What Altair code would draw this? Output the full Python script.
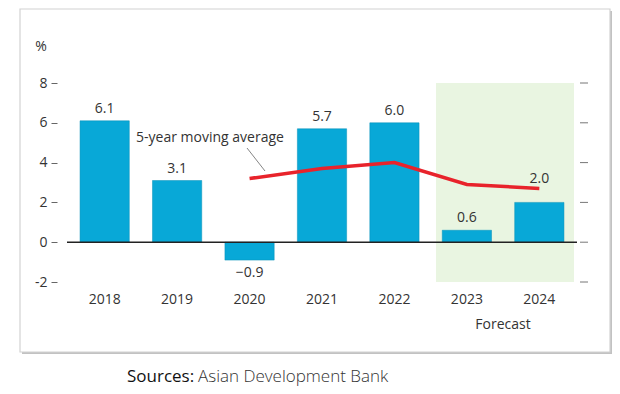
import altair as alt
import pandas as pd

years = ["2018", "2019", "2020", "2021", "2022", "2023", "2024"]
growth = [6.1, 3.1, -0.9, 5.7, 6.0, 0.6, 2.0]
avg_years = ["2020", "2021", "2022", "2023", "2024"]
avg_vals = [3.2, 3.7, 4.0, 2.9, 2.7]
y_ticks = [-2, 0, 2, 4, 6, 8]

FONT = "Open Sans"
TXT = "#333333"
BAR = "#08a8d7"
RED = "#e8232b"

bars_df = pd.DataFrame({"year": years, "value": growth})
bars_df["label"] = [f"{v:.1f}".replace("-", "\u2212") for v in growth]
avg_df = pd.DataFrame({"year": avg_years, "avg": avg_vals})
ticks_df = pd.DataFrame({"t": y_ticks})
one = pd.DataFrame({"k": [0]})

yscale = alt.Scale(domain=[-2, 8], nice=False, zero=False)
xscale = alt.Scale(domain=years, paddingInner=0.32, paddingOuter=0.18)
xaxis = alt.Axis(title=None, domain=False, ticks=False, labelPadding=10, zindex=2,
                 labelFontSize=14, labelColor=TXT, labelFont=FONT, labelAngle=0)
yaxis = alt.Axis(title=None, values=y_ticks, tickCount=6, domain=False, grid=False, zindex=2,
                 offset=10, tickSize=6, tickColor="#666666", labelPadding=4,
                 labelFontSize=14, labelColor=TXT, labelFont=FONT,
                 labelOverlap=False, labelBound=False,
                 labelExpr="datum.value < 0 ? '-' + abs(datum.value) : '' + datum.value")

base = alt.Chart(bars_df)

# frame (decoration)
shadow = alt.Chart(one).mark_rect(fill="#9a9a9a", opacity=0.6).encode(
    x=alt.value(-45), x2=alt.value(545), y=alt.value(-72), y2=alt.value(271))
frame = alt.Chart(one).mark_rect(fill="white", stroke="#d2d2d2", strokeWidth=1.2).encode(
    x=alt.value(-47), x2=alt.value(543), y=alt.value(-74), y2=alt.value(269))

# forecast shading (decoration, spans -2..8)
green = alt.Chart(one).mark_rect(color="#e9f5e1").encode(
    x=alt.value(369), x2=alt.value(507), y=alt.value(0), y2=alt.value(199))

bars = base.mark_bar(color=BAR, stroke="#0790b8", strokeWidth=0.5).encode(
    x=alt.X("year:N", scale=xscale, axis=xaxis),
    y=alt.Y("value:Q", scale=yscale, axis=yaxis),
    y2=alt.Y2(datum=0),
)

zero = alt.Chart(one).mark_rule(color="#222222", strokeWidth=1.5).encode(
    y=alt.Y(datum=0, type="quantitative", scale=yscale, axis=yaxis),
    x=alt.value(0), x2=alt.value(510),
)

line = alt.Chart(avg_df).mark_line(color=RED, strokeWidth=3.5).encode(
    x=alt.X("year:N", scale=xscale, axis=xaxis),
    y=alt.Y("avg:Q", scale=yscale, axis=yaxis),
)

def labels(flt, baseline, dy):
    return base.transform_filter(flt).mark_text(
        baseline=baseline, dy=dy, fontSize=14, font=FONT, color=TXT).encode(
        x=alt.X("year:N", scale=xscale, axis=xaxis),
        y=alt.Y("value:Q", scale=yscale, axis=yaxis),
        text="label:N")

lab_pos = labels("datum.value >= 0 && datum.year != '2024'", "bottom", -5)
lab_2024 = labels("datum.year == '2024'", "bottom", -16)
lab_neg = labels("datum.value < 0", "top", 6)

right_ticks = alt.Chart(ticks_df).mark_rule(color="#777777", strokeWidth=1).encode(
    y=alt.Y("t:Q", scale=yscale, axis=yaxis), x=alt.value(513), x2=alt.value(521))

ann = alt.Chart(one).mark_text(text="5-year moving average", fontSize=14, font=FONT,
                               color=TXT, align="center", baseline="middle").encode(
    x=alt.value(143), y=alt.value(55))
leader = alt.Chart(one).mark_rule(color="#666666", strokeWidth=0.8).encode(
    x=alt.value(180), y=alt.value(65), x2=alt.value(198), y2=alt.value(88))
forecast = alt.Chart(one).mark_text(text="Forecast", fontSize=14, font=FONT, color=TXT,
                                    align="center", baseline="middle").encode(
    x=alt.value(436), y=alt.value(242))
pct = alt.Chart(one).mark_text(text="%", fontSize=14, font=FONT, color=TXT,
                               align="center", baseline="middle").encode(
    x=alt.value(-26), y=alt.value(-36))
src1 = alt.Chart(one).mark_text(text="Sources:", fontSize=17, font=FONT, color="#111111",
                                align="left", baseline="middle").encode(
    x=alt.value(60), y=alt.value(294))
src2 = alt.Chart(one).mark_text(text="Asian Development Bank", fontSize=17, font=FONT,
                                fontWeight=300, color="#333333",
                                align="left", baseline="middle").encode(
    x=alt.value(131), y=alt.value(294))

chart = alt.layer(
    shadow, frame, green, bars, zero, line, lab_pos, lab_2024, lab_neg,
    right_ticks, ann, leader, forecast, pct, src1, src2
).properties(
    width=510, height=199,
    autosize=alt.AutoSizeParams(type="none"),
    padding={"left": 59, "top": 75, "right": 35, "bottom": 110},
).configure_view(stroke=None).configure(font=FONT)

chart.save("out.html", embed_options={"renderer": "svg", "actions": False})
